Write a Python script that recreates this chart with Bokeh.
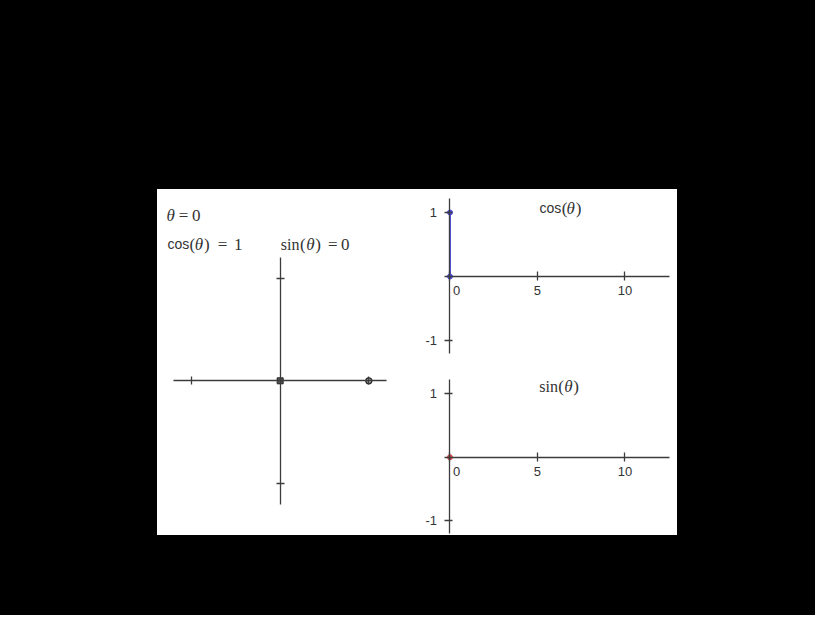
from bokeh.plotting import figure
from bokeh.models import Range1d, LinearAxis, FixedTicker, Spacer
from bokeh.layouts import column, row
from bokeh.core.properties import value
from bokeh.embed import file_html
from bokeh.resources import INLINE

# ---- data (one animation frame) ----
theta = [0.0]
cos_vals = [1.0]
sin_vals = [0.0]
unit_ticks = [-1, 1]
time_x_ticks = [0, 5, 10]
time_y_ticks = [-1, 1]
time_end = 12.566  # 4*pi
circle_axis_bounds = (-1.2, 1.2)

AX = "#3c3c3c"
TXT = "#333333"
SERIF = "Liberation Serif"
SANS = "Liberation Sans"
BLUE = "#4c4ce8"
RED = "#e04848"


def base_fig(w, h, xr, yr):
    p = figure(width=w, height=h, x_range=Range1d(*xr), y_range=Range1d(*yr),
               x_axis_type=None, y_axis_type=None, toolbar_location=None,
               output_backend="svg", min_border=0, outline_line_color=None,
               background_fill_color="white", border_fill_color="white")
    p.grid.visible = False
    return p


def style_axis(ax, ticks, bounds, labels=None, size="13px", standoff=6):
    ax.ticker = FixedTicker(ticks=ticks)
    ax.bounds = bounds
    ax.axis_line_color = AX
    ax.axis_line_width = 1.3
    ax.major_tick_line_color = AX
    ax.major_tick_line_width = 1.3
    ax.major_tick_in = 3
    ax.major_tick_out = 5
    ax.minor_tick_line_color = None
    ax.major_label_standoff = standoff
    ax.major_label_text_font = SANS
    ax.major_label_text_font_size = size
    ax.major_label_text_color = TXT
    if labels is None:
        ax.major_label_overrides = {t: "" for t in ticks}
    else:
        ax.major_label_overrides = labels


def pieces(p, origin, baseline, items):
    """items: (text, left_x_page, font, style, size); all at one baseline (page px)."""
    ox, oy = origin
    for txt, lx, font, style, size in items:
        p.text(x=[0], y=[0], text=[txt], x_offset=lx - ox, y_offset=baseline - oy,
               text_align="left", text_baseline="alphabetic",
               text_font=value(font), text_font_style=style,
               text_font_size=size, text_color=TXT)


TH = "\u03b8"

# ---------------- unit circle panel ----------------
left = base_fig(255, 346, (-1.383, 1.492), (-1.505, 1.861))
ax_b = LinearAxis(fixed_location=0)
ax_l = LinearAxis(fixed_location=0)
style_axis(ax_b, unit_ticks, circle_axis_bounds)
style_axis(ax_l, unit_ticks, circle_axis_bounds)
for a in (ax_b, ax_l):
    a.major_tick_in = 4
    a.major_tick_out = 4
left.add_layout(ax_b, "below")
left.add_layout(ax_l, "left")

left.scatter(x=[0], y=[0], marker="square", size=6, fill_color="#555555",
             line_color="#222222")
left.scatter(x=cos_vals, y=sin_vals, marker="circle", size=6,
             fill_color="#aaaaaa", line_color="#222222", line_width=1.3)

LO = (287.7, 388.3)
pieces(left, LO, 223.3, [
    (TH, 174, SERIF, "italic", "17px"),
    ("=", 186.3, SERIF, "normal", "17px"),
    (f"{theta[0]:g}", 199.5, SERIF, "normal", "17px"),
])
pieces(left, LO, 252, [
    ("cos", 175, SANS, "normal", "14px"),
    ("(", 197, SERIF, "normal", "17px"),
    (TH, 202.3, SERIF, "italic", "17px"),
    (")", 211.5, SERIF, "normal", "17px"),
    ("=", 225.3, SERIF, "normal", "17px"),
    (f"{cos_vals[0]:g}", 241.5, SERIF, "normal", "17px"),
])
pieces(left, LO, 252, [
    ("sin", 288.3, SERIF, "normal", "16px"),
    ("(", 307.5, SERIF, "normal", "17px"),
    (TH, 313.8, SERIF, "italic", "17px"),
    (")", 322.8, SERIF, "normal", "17px"),
    ("=", 335.5, SERIF, "normal", "17px"),
    (f"{sin_vals[0]:g}", 348.5, SERIF, "normal", "17px"),
])

# ---------------- time panels ----------------
XR = (-2.14, 13.0)


def time_fig(yr, origin):
    p = base_fig(265, 173, XR, yr)
    axx = LinearAxis(fixed_location=0)
    axy = LinearAxis(fixed_location=0)
    style_axis(axx, time_x_ticks, (-0.3, time_end),
               labels={0: "", 5: "5", 10: "10"}, standoff=6)
    axx.major_tick_in = 5
    axx.major_tick_out = 4
    style_axis(axy, time_y_ticks, (-1.2, 1.22),
               labels={-1: "-1", 1: "1"}, standoff=8)
    p.add_layout(axx, "below")
    p.add_layout(axy, "left")
    p.text(x=[0], y=[0], text=["0"], x_offset=3, y_offset=10,
           text_align="left", text_baseline="top", text_font=value(SANS),
           text_font_size="13px", text_color=TXT)
    return p


CO = (457.7, 284.0)
cosf = time_fig((-1.344, 1.359), CO)
pieces(cosf, CO, 216, [
    ("cos", 547.3, SANS, "normal", "14px"),
    ("(", 569.5, SERIF, "normal", "17px"),
    (TH, 574.3, SERIF, "italic", "17px"),
    (")", 583.5, SERIF, "normal", "17px"),
])
cosf.segment(x0=theta, y0=[0], x1=theta, y1=cos_vals, line_color=BLUE, line_width=2)
cosf.scatter(x=theta + theta, y=[0] + cos_vals, size=5, fill_color=BLUE,
             line_color=BLUE)

SO = (457.2, 464.7)
sinf = time_fig((-1.233, 1.491), SO)
pieces(sinf, SO, 394.5, [
    ("sin", 546.5, SERIF, "normal", "16px"),
    ("(", 565.5, SERIF, "normal", "17px"),
    (TH, 571.5, SERIF, "italic", "17px"),
    (")", 580.5, SERIF, "normal", "17px"),
])
sinf.segment(x0=theta, y0=[0], x1=theta, y1=sin_vals, line_color=RED, line_width=2)
sinf.scatter(x=theta, y=sin_vals, size=5, fill_color=RED, line_color=RED)

BLACK = {"background-color": "black"}
WHITE = {"background-color": "white"}
panel = row(left, column(cosf, sinf, styles=WHITE), styles=WHITE)
layout = column(
    Spacer(width=815, height=189, styles=BLACK),
    row(Spacer(width=157, height=346, styles=BLACK), panel,
        Spacer(width=138, height=346, styles=BLACK), styles=BLACK),
    Spacer(width=815, height=80, styles=BLACK),
    styles=BLACK,
)

open("out.html", "w").write(file_html(layout, INLINE))
